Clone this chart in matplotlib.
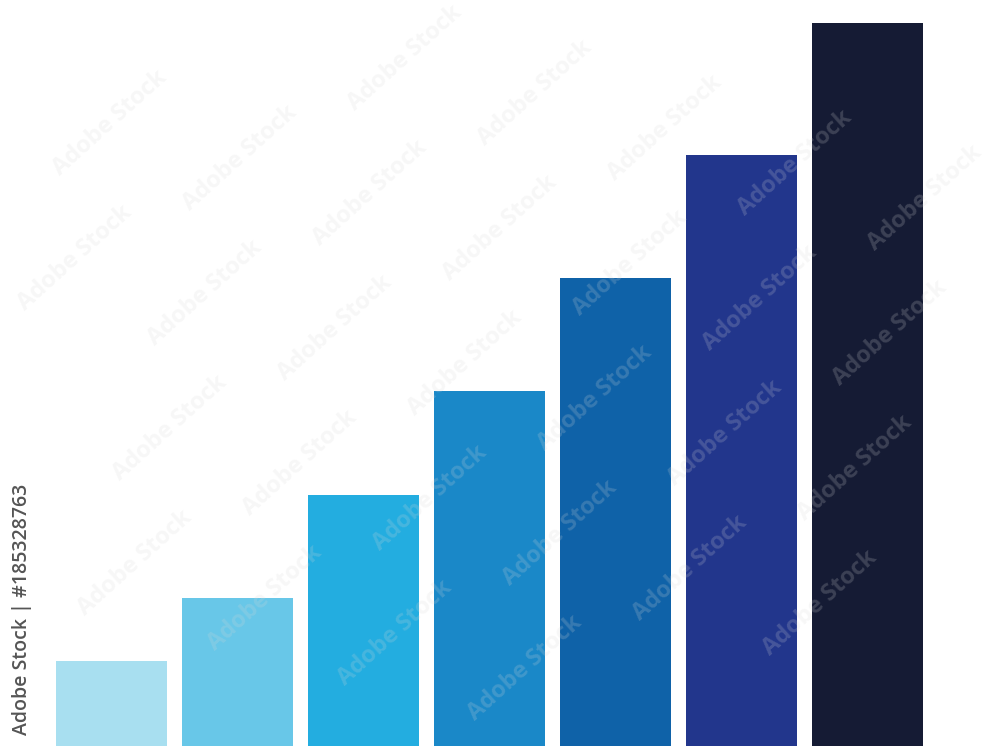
import numpy as np
import matplotlib.pyplot as plt

# bar heights (baseline = 0)
steps = ['1', '2', '3', '4', '5', '6', '7']
heights = [85, 148, 251, 355, 468, 591, 723]
colors = ['#a8dff0', '#68c7e8', '#23ade0', '#1a88c8', '#0f62a8', '#22368c', '#151b34']

stock_label = 'Adobe Stock | #185328763'
watermark = 'Adobe Stock'

W, H = 1000, 750
fig = plt.figure(figsize=(10, 7.5), dpi=100)
fig.patch.set_facecolor('white')

ax = fig.add_axes([0.048, 4 / H, 0.8828, 746 / H])
x = np.arange(len(steps))
ax.bar(x, heights, width=0.88, color=colors, edgecolor='none')
ax.set_xlim(-0.5, len(steps) - 0.5)
ax.set_ylim(0, 746)
ax.axis('off')

# faint stock watermark on a skewed lattice (pixel coords from top-left),
# only the copies that fit whole inside the picture
for i in range(-8, 12):
    for j in range(-3, 9):
        px = 110 + i * 130 - j * 35
        py = 123 + i * 35 + j * 135
        if not (58 < px < 942 and 52 < py < 698):
            continue
        fig.text(px / W, 1 - py / H, watermark, fontsize=17, fontweight='bold',
                 family='Open Sans', color='#d8d8d8', alpha=0.2, rotation=42,
                 ha='center', va='center', zorder=5)

fig.text(0.022, 0.02, stock_label, rotation=90, fontsize=14, color='#555555',
         family='Open Sans', fontweight='semibold', ha='center', va='bottom')

fig.savefig('out.png', dpi=100)
